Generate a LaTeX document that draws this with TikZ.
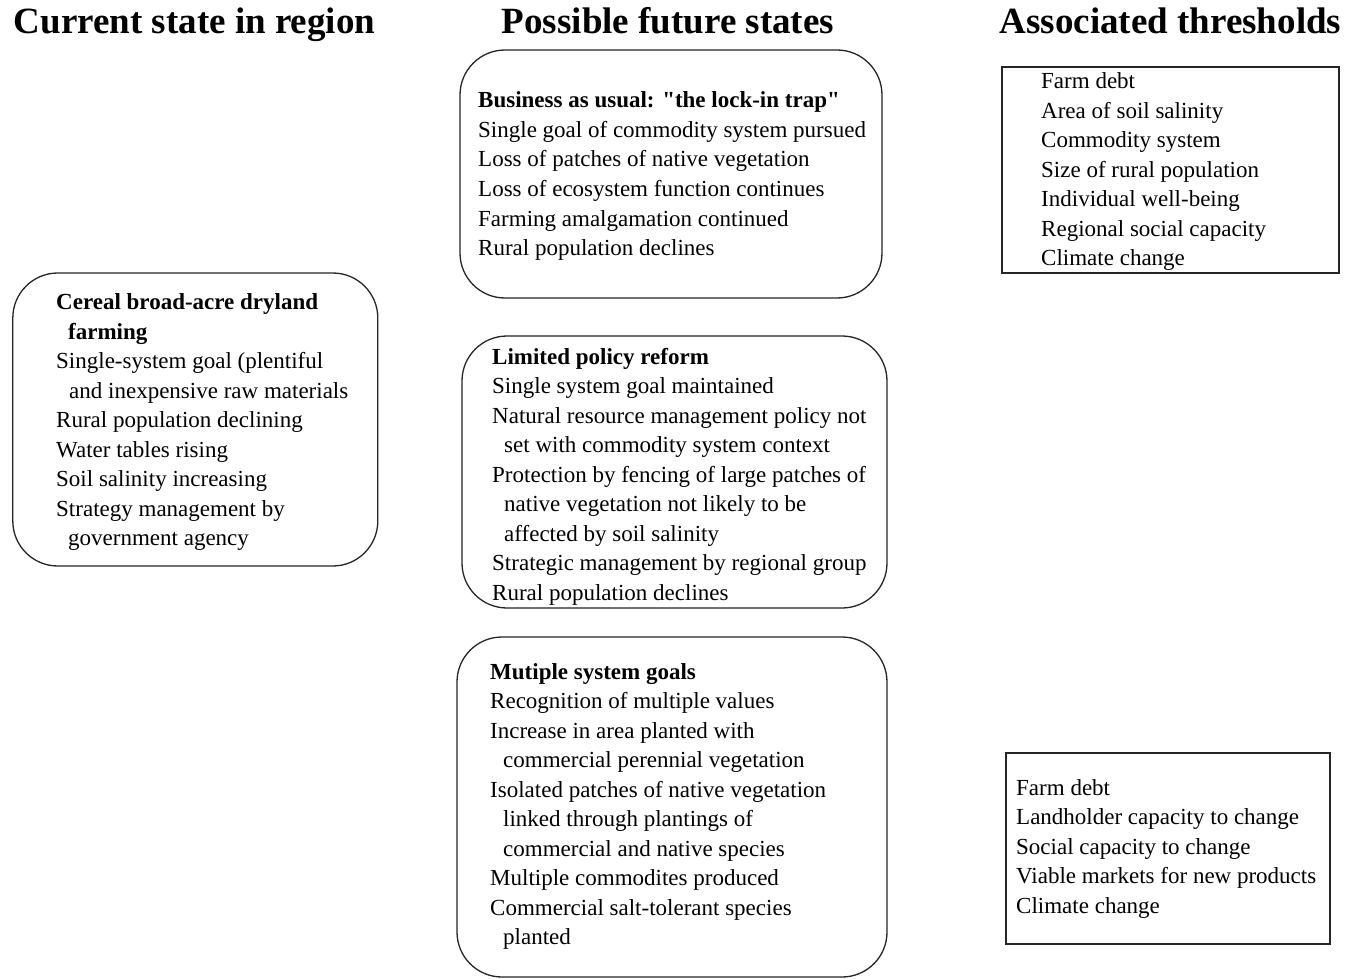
\documentclass[tikz,border=0pt]{standalone}
\usepackage{fontspec}
\setmainfont{Liberation Serif}[Ligatures=TeXOff]
\begin{document}
\begin{tikzpicture}[x=1pt,y=-1pt,
  txt/.style={anchor=base west, inner sep=0pt, font=\fontsize{23}{29.5}\selectfont},
  ttl/.style={anchor=base west, inner sep=0pt, font=\fontsize{23}{29.5}\selectfont\bfseries},
  hdr/.style={anchor=base, inner sep=0pt, font=\fontsize{37}{40}\selectfont\bfseries},
  rbox/.style={draw=black!85, line width=1.3pt, rounded corners=45pt, inner sep=0pt},
  sbox/.style={draw=black!85, line width=1.3pt, inner sep=0pt}]
\useasboundingbox[fill=white] (0,0) rectangle (1355,979);

% headers
\node[hdr] (h1) at (194.5,34) {Current state in region};
\node[hdr] (h2) at (668,34) {Possible future states};
\node[hdr] (h3) at (1170.5,34) {Associated thresholds};

% boxes
\node[rbox, minimum width=365pt, minimum height=293pt] (cur) at (195.3,419.5) {};
\node[rbox, minimum width=422pt, minimum height=248pt] (bau) at (671,174) {};
\node[rbox, minimum width=425pt, minimum height=272pt] (lpr) at (674.5,472) {};
\node[rbox, minimum width=430pt, minimum height=340pt] (msg) at (672,807) {};
\node[sbox, minimum width=337pt, minimum height=206pt] (th1) at (1170.5,170) {};
\node[sbox, minimum width=324pt, minimum height=191pt] (th2) at (1168,848.5) {};

% current state
\node[ttl] (curt1) at (56,309) {Cereal broad-acre dryland};
\node[ttl] (curt2) at (68,339) {farming};
\foreach \dx/\t [count=\i] in {0/Single-system goal (plentiful,
  13/and inexpensive raw materials,
  0/Rural population declining,
  0/Water tables rising,
  0/Soil salinity increasing,
  0/Strategy management by,
  12/government agency}
  \node[txt] (cur-\i) at ({56+\dx},{339+29.5*\i}) {\t};

% business as usual
\node[ttl] (baut) at (478,108) {Business as usual: "the lock-in trap"};
\foreach \dx/\t [count=\i] in {0/Single goal of commodity system pursued,
  0/Loss of patches of native vegetation,
  0/Loss of ecosystem function continues,
  0/Farming amalgamation continued,
  0/Rural population declines}
  \node[txt] (bau-\i) at ({478+\dx},{108+29.5*\i}) {\t};

% limited policy reform
\node[ttl] (lprt) at (492,364) {Limited policy reform};
\foreach \dx/\t [count=\i] in {0/Single system goal maintained,
  0/Natural resource management policy not,
  12/set with commodity system context,
  0/Protection by fencing of large patches of,
  12/native vegetation not likely to be,
  12/affected by soil salinity,
  0/Strategic management by regional group,
  0/Rural population declines}
  \node[txt] (lpr-\i) at ({492+\dx},{364+29.5*\i}) {\t};

% multiple system goals
\node[ttl] (msgt) at (490,679) {Mutiple system goals};
\foreach \dx/\t [count=\i] in {0/Recognition of multiple values,
  0/Increase in area planted with,
  13/commercial perennial vegetation,
  0/Isolated patches of native vegetation,
  13/linked through plantings of,
  13/commercial and native species,
  0/Multiple commodites produced,
  0/Commercial salt-tolerant species,
  13/planted}
  \node[txt] (msg-\i) at ({490+\dx},{679+29.5*\i}) {\t};

% thresholds
\foreach \t [count=\i] in {Farm debt, Area of soil salinity, Commodity system,
  Size of rural population, Individual well-being, Regional social capacity,
  Climate change}
  \node[txt] (th1-\i) at (1041,{59.6+29.4*\i}) {\t};
\foreach \t [count=\i] in {Farm debt, Landholder capacity to change,
  Social capacity to change, Viable markets for new products, Climate change}
  \node[txt] (th2-\i) at (1016,{765.5+29.5*\i}) {\t};
\end{tikzpicture}
\end{document}
